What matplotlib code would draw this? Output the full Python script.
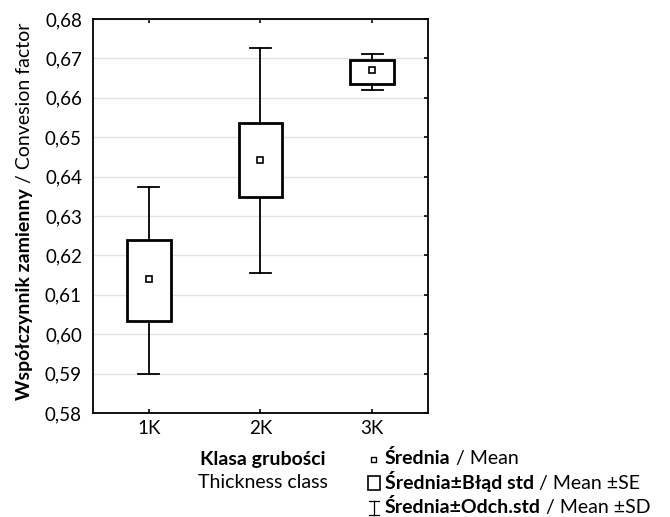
import matplotlib
matplotlib.use("Agg")
import matplotlib.pyplot as plt
from matplotlib.patches import Rectangle
from matplotlib.lines import Line2D
from matplotlib.ticker import FuncFormatter

plt.rcParams['font.family'] = ['Lato', 'DejaVu Sans']

categories = ["1K", "2K", "3K"]
means = [0.6139, 0.6441, 0.6670]
se_low = [0.6033, 0.6347, 0.6635]
se_high = [0.6240, 0.6535, 0.6696]
sd_low = [0.5899, 0.6155, 0.6621]
sd_high = [0.6373, 0.6727, 0.6710]
yticks = [0.58, 0.59, 0.60, 0.61, 0.62, 0.63, 0.64, 0.65, 0.66, 0.67, 0.68]

W, H = 670, 517
fig = plt.figure(figsize=(W / 100, H / 100), dpi=100)
ax = fig.add_axes([93 / W, 1 - 413 / H, (428 - 93) / W, (413 - 19) / H])

xs = list(range(1, len(categories) + 1))
box_w = 0.39
cap_w = 0.19
for x, m, bl, bh, sl, sh in zip(xs, means, se_low, se_high, sd_low, sd_high):
    ax.plot([x, x], [bh, sh], color='black', lw=1.3, zorder=2)
    ax.plot([x, x], [sl, bl], color='black', lw=1.3, zorder=2)
    ax.plot([x - cap_w / 2, x + cap_w / 2], [sh, sh], color='black', lw=1.3, zorder=2)
    ax.plot([x - cap_w / 2, x + cap_w / 2], [sl, sl], color='black', lw=1.3, zorder=2)
    ax.add_patch(Rectangle((x - box_w / 2, bl), box_w, bh - bl, facecolor='white',
                           edgecolor='black', lw=2.0, zorder=3))
    ax.plot([x], [m], marker='s', ms=4.2, mfc='white', mec='black', mew=1.2, zorder=4)

ax.set_xlim(0.5, 3.5)
ax.set_ylim(0.58, 0.68)
ax.set_yticks(yticks)
ax.yaxis.set_major_formatter(FuncFormatter(lambda v, p: f"{v:.2f}".replace('.', ',')))
ax.set_xticks(xs)
ax.set_xticklabels(categories)
ax.grid(axis='y', color='#e3e3e3', lw=1.0, zorder=0)
ax.set_axisbelow(True)
for s in ax.spines.values():
    s.set_linewidth(1.3)
ax.tick_params(axis='both', direction='in', labelsize=13.5, length=3, width=1.2,
               top=True, right=True, left=False, pad=5)
ax.tick_params(axis='y', pad=8)

fig.canvas.draw()
renderer = fig.canvas.get_renderer()

FS = 14
LFS = 14


def mixed(x, y, parts, size=LFS, rotation=0):
    """Place consecutive text parts of different weights starting at pixel (x, y)."""
    for txt, weight in parts:
        t = fig.text(x / W, 1 - y / H, txt, fontsize=size, fontweight=weight,
                     rotation=rotation, rotation_mode='anchor', ha='left', va='baseline')
        bb = t.get_window_extent(renderer)
        if rotation == 90:
            y -= bb.height
        else:
            x += bb.width


# Y label (rotated, mixed weights), centred on the axes
ylab_parts = [("Współczynnik zamienny", 'bold'), (" / Convesion factor", 'normal')]
total = 0
for txt, weight in ylab_parts:
    t = fig.text(0, 0, txt, fontsize=FS, fontweight=weight, rotation=90, rotation_mode='anchor')
    total += t.get_window_extent(renderer).height
    t.remove()
mixed(30, 211 + total / 2, ylab_parts, size=FS, rotation=90)

# X axis title
fig.text(263 / W, 1 - 459 / H, "Klasa grubości", fontsize=LFS, fontweight='bold',
         ha='center', va='center')
fig.text(263 / W, 1 - 483 / H, "Thickness class", fontsize=LFS, ha='center', va='center')

# Legend
lx = 385
mixed(lx, 464, [("Średnia", 'bold'), (" / Mean", 'normal')])
mixed(lx, 489, [("Średnia±Błąd std", 'bold'), (" / Mean ±SE", 'normal')])
mixed(lx, 513, [("Średnia±Odch.std", 'bold'), (" / Mean ±SD", 'normal')])


def fx(px):
    return px / W


def fy(py):
    return 1 - py / H


fig.add_artist(Rectangle((fx(371), fy(462)), 5 / W, 5 / H, transform=fig.transFigure,
                         facecolor='white', edgecolor='black', lw=1.0))
fig.add_artist(Rectangle((fx(368), fy(490)), 12 / W, 14 / H, transform=fig.transFigure,
                         facecolor='white', edgecolor='black', lw=1.2))
for seg in [([374, 374], [501, 515]), ([369, 379], [501, 501]), ([369, 379], [515, 515])]:
    fig.add_artist(Line2D([fx(v) for v in seg[0]], [fy(v) for v in seg[1]],
                          transform=fig.transFigure, color='black', lw=0.9))

fig.savefig("out.png", dpi=100)
